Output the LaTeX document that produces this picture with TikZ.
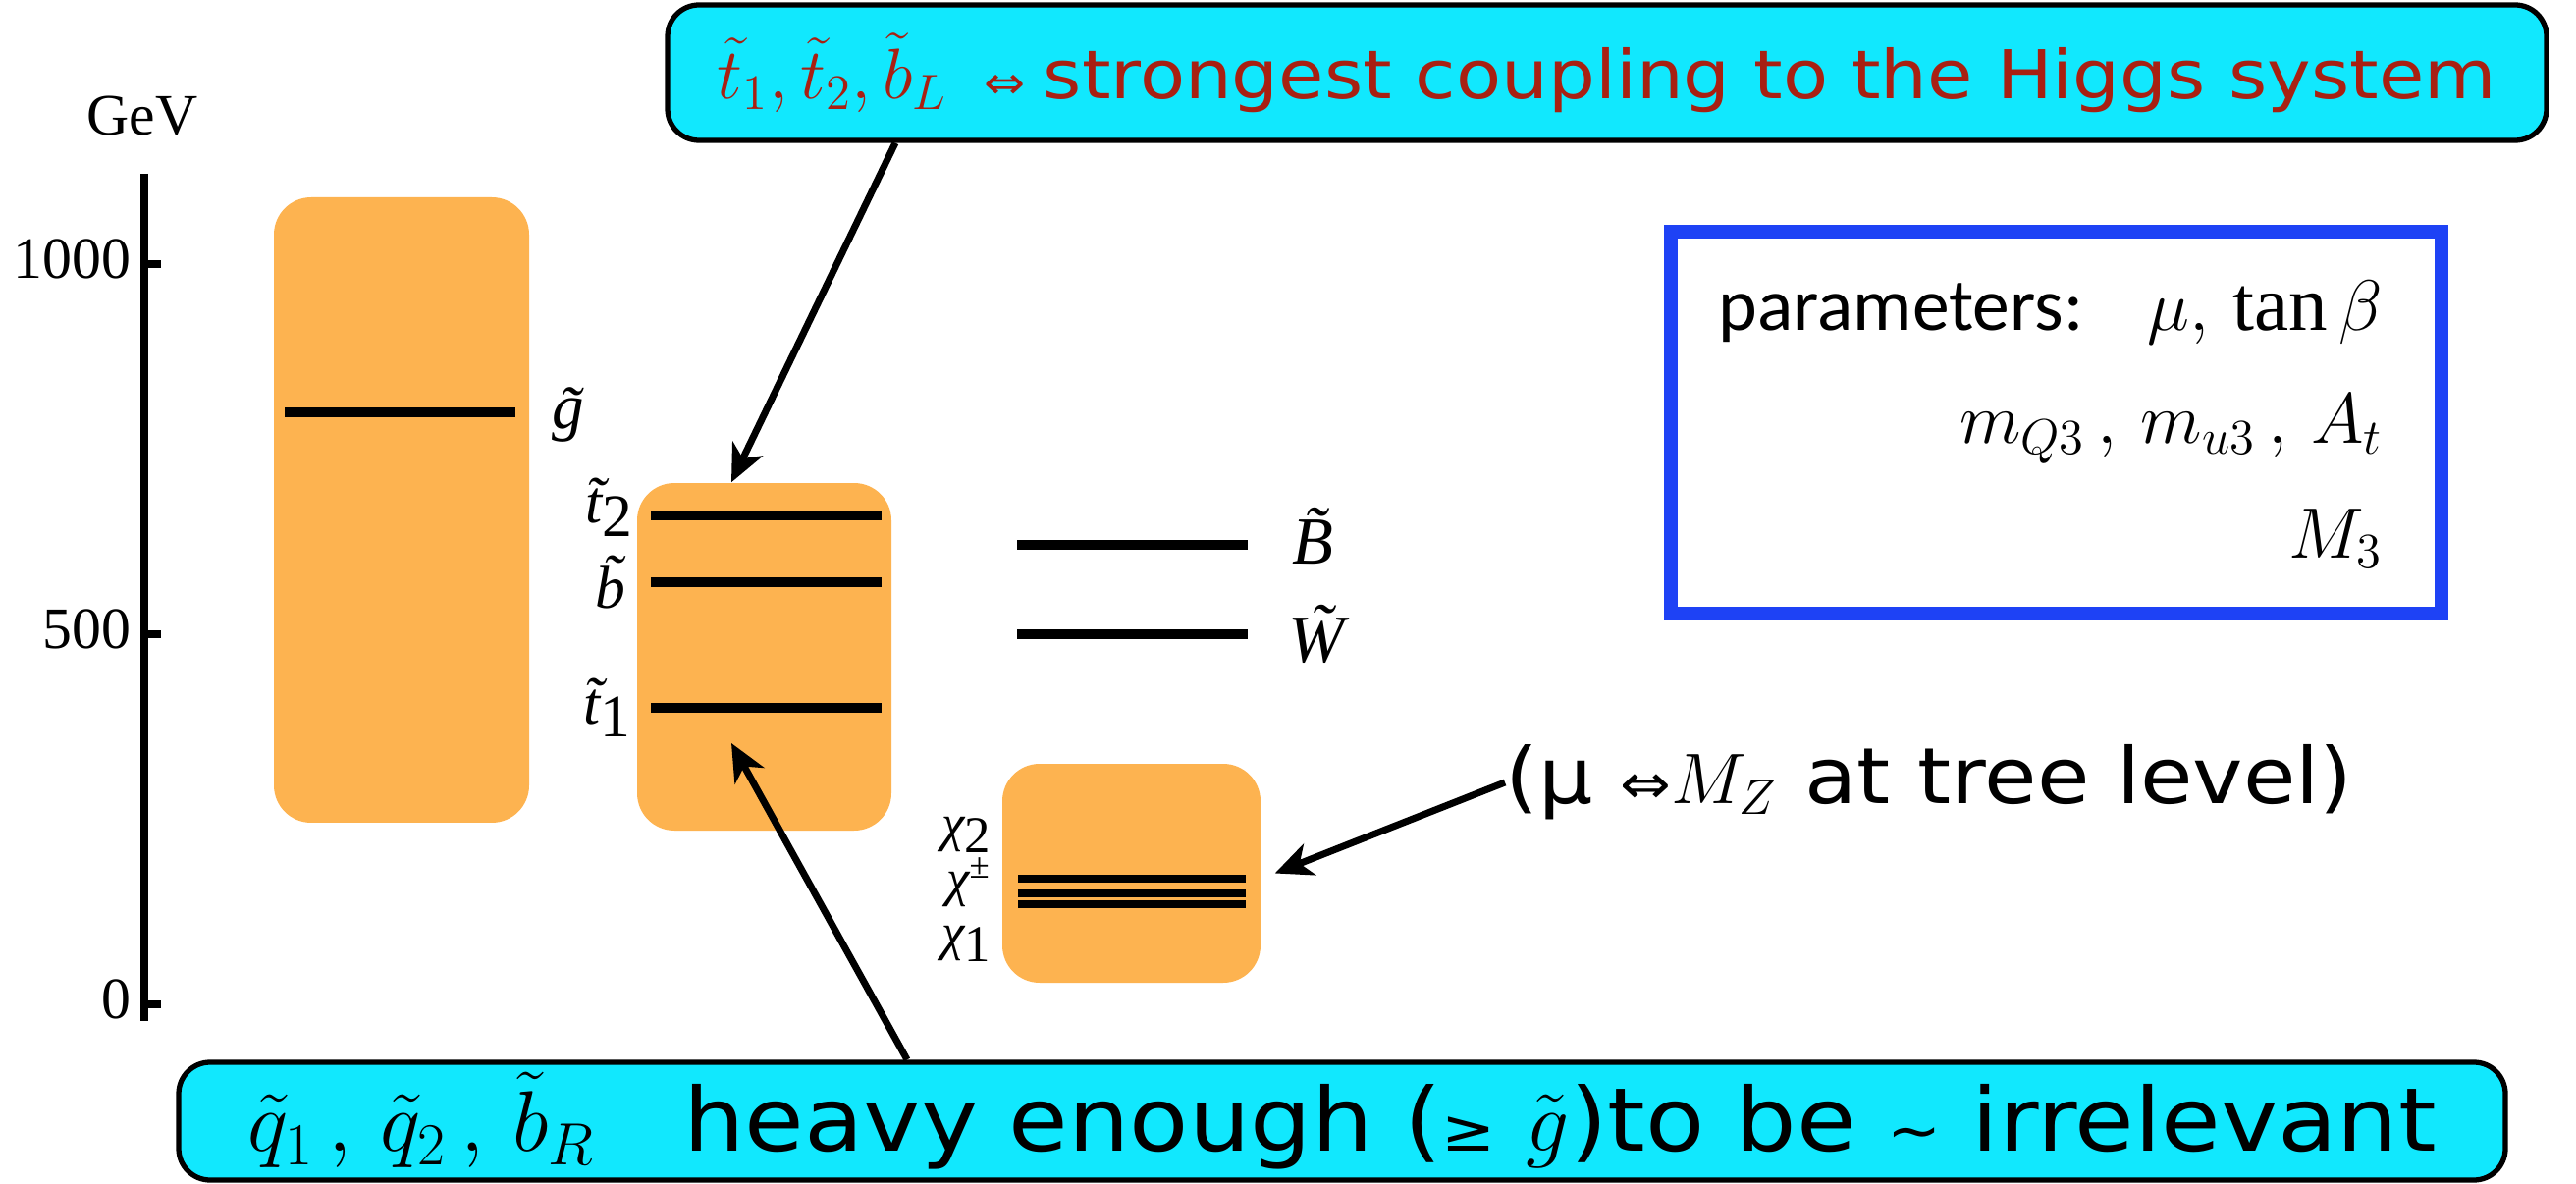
\documentclass[tikz,border=0pt]{standalone}
\usepackage{fontspec}
\setmainfont{Liberation Serif}
\newfontfamily\comic[FakeStretch=1.1]{DejaVu Sans}
\newfontfamily\calib{Carlito}
\usetikzlibrary{arrows.meta}

\definecolor{bandorange}{RGB}{253,179,80}
\definecolor{calloutcyan}{RGB}{17,232,254}
\definecolor{higgsred}{RGB}{168,32,18}
\definecolor{parblue}{RGB}{30,66,245}

\newcommand{\dn}[1]{\raisebox{-0.22em}{\upshape #1}}
\newcommand{\comicsz}{\comic\fontsize{19.5}{23}\selectfont}
\newcommand{\mathsz}{\fontsize{21}{25}\selectfont}

\tikzset{
  band/.style={fill=bandorange, rounded corners=3.8mm, inner sep=0pt},
  level/.style={line width=3.1pt},
  flatlevel/.style={line width=2.3pt},
  callout/.style={draw, line width=1.5pt, fill=calloutcyan, rounded corners=3.2mm, inner sep=0pt},
  parbox/.style={draw=parblue, line width=4pt, inner sep=0pt},
  arr/.style={line width=2pt, -{Stealth[length=3.8mm, width=3.4mm, inset=1.1mm]}},
  axislbl/.style={font=\fontsize{17}{20}\selectfont, inner sep=0pt},
  partlbl/.style={font=\fontsize{17.5}{20}\selectfont\itshape, inner sep=0pt},
}

\begin{document}
\begin{tikzpicture}[x=0.1mm, y=-0.1mm]
\useasboundingbox (0,0) rectangle (2624,1206);

% energy axis
\draw[line width=2.3pt] (147,177) -- (147,1040);
\foreach \E in {0,500,1000} {
  \draw[line width=2.3pt] (147,{1023-0.754*\E}) -- (164,{1023-0.754*\E});
  \node[axislbl, anchor=east] (tick\E) at (134,{1018-0.754*\E}) {\E};
}
\node[axislbl, anchor=base] (gev) at (145,138) {GeV};

% gluino
\node[band, minimum width=26mm, minimum height=63.7mm] (gluino) at (409,519.5) {};
\draw[level] (290,420) -- (525,420);
\node[partlbl, font=\fontsize{18.5}{20}\selectfont\itshape, anchor=base west] (glbl) at (562,437) {g̃};

% stops and sbottom
\node[band, minimum width=25.9mm, minimum height=35.4mm] (stops) at (778.5,669) {};
\draw[level] (663,525) -- (898,525);
\draw[level] (663,593) -- (898,593);
\draw[level] (663,721) -- (898,721);
\node[partlbl, anchor=base east] (t2lbl) at (645,533) {t̃\dn{2}};
\node[partlbl, anchor=base east] (blbl) at (638,620) {b̃};
\node[partlbl, anchor=base east] (t1lbl) at (643,737) {t̃\dn{1}};

% bino, wino
\draw[level] (1036,555) -- (1271,555);
\draw[level] (1036,646) -- (1271,646);
\node[partlbl, font=\fontsize{19.5}{20}\selectfont\itshape, anchor=base west] (blbl2) at (1316,575) {B̃};
\node[partlbl, font=\fontsize{19.5}{20}\selectfont\itshape, anchor=base west] (wlbl) at (1312,674) {W̃};

% higgsinos
\node[band, minimum width=26.3mm, minimum height=22.3mm] (chi) at (1152.5,889.5) {};
\draw[flatlevel] (1037,895) -- (1269,895);
\draw[flatlevel] (1037,910) -- (1269,910);
\draw[flatlevel] (1037,921) -- (1269,921);
\node[partlbl, font=\fontsize{15}{15.8}\selectfont\itshape, align=right, anchor=north east] (chilbl) at (1010,832)
  {χ\dn{2}\\χ\textsuperscript{±}\\χ\dn{1}};

% call-outs
\node[callout, minimum width=191.4mm, minimum height=13.8mm] (higgs) at (1637,74)
  {\color{higgsred}\mathsz$\tilde t_1,\tilde t_2,\tilde b_L$\ \ {\comic\fontsize{13}{15}\selectfont ⇔}\ {\comicsz strongest coupling to the Higgs system}};
\node[callout, minimum width=237mm, minimum height=12mm] (heavy) at (1367,1142)
  {\fontsize{24}{28}\selectfont$\tilde q_1\,,\,\tilde q_2\,,\,\tilde b_R$\hspace{9mm}{\comic\fontsize{25.5}{30}\selectfont heavy enough ({\fontsize{17}{20}\selectfont ≥} }$\tilde g${\comic\fontsize{25.5}{30}\selectfont )to be {\fontsize{17}{20}\selectfont\textasciitilde} irrelevant}\hspace{3mm}};
\node[inner sep=0pt, anchor=west] (mz) at (1533,797)
  {\fontsize{22.5}{27}\selectfont{\comic (μ {\fontsize{16}{18}\selectfont ⇔}}$M_Z${\comic\ at tree level)}};

% parameters
\node[parbox, minimum width=78.5mm, minimum height=38.9mm] (params) at (2094.5,430.5) {};
\node[inner sep=0pt, anchor=base east] (par1) at (2428,337)
  {{\calib\fontsize{21.5}{25}\selectfont parameters:}\hspace{6.5mm}\fontsize{22.5}{27}\selectfont$\mu,\,\tan\beta$};
\node[inner sep=0pt, anchor=base east] (par2) at (2428,452) {\fontsize{22.5}{27}\selectfont$m_{Q3}\,,\,m_{u3}\,,\,A_t$};
\node[inner sep=0pt, anchor=base east] (par3) at (2428,568) {\fontsize{22.5}{27}\selectfont$M_3$};

% arrows
\coordinate (t1tip) at (745,757);
\draw[arr] (higgs.south -| 912,0) -- (stops.north -| 745,0);
\draw[arr] (heavy.north -| 924,0) -- (t1tip);
\draw[arr] (mz.west) -- ([xshift=1.4mm]chi.east);
\end{tikzpicture}
\end{document}
